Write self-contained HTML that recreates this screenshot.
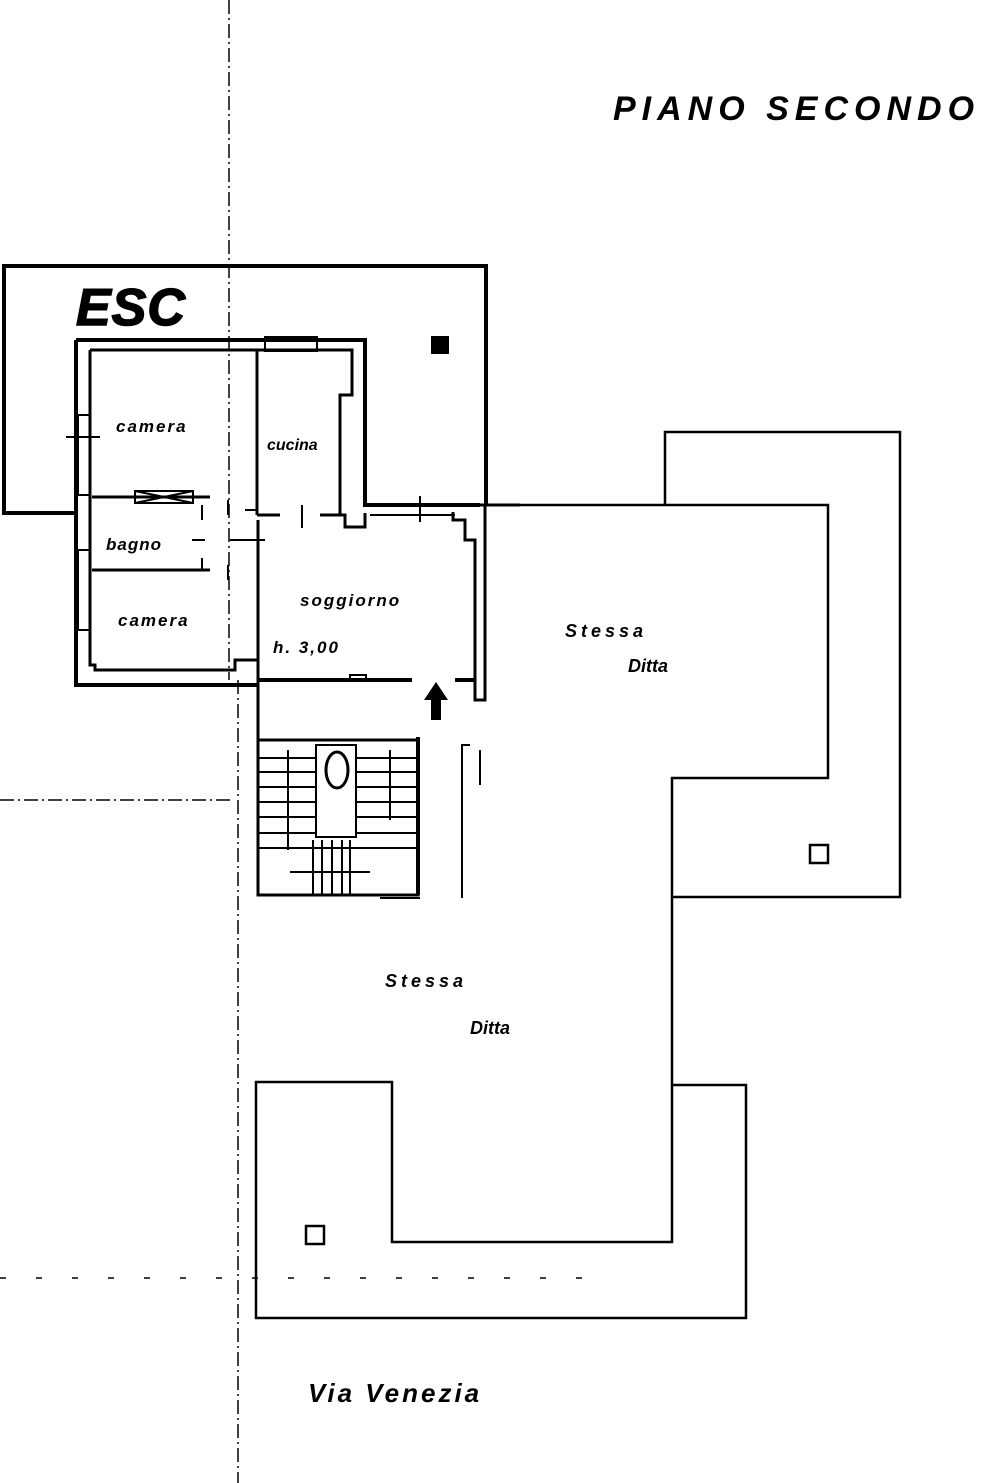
<!DOCTYPE html>
<html><head><meta charset="utf-8"><style>
html,body{margin:0;padding:0;background:#fff;}
svg{display:block}
text{font-family:"Liberation Sans",sans-serif;font-style:italic;font-weight:bold;fill:#000}
</style></head><body>
<svg width="989" height="1483" viewBox="0 0 989 1483" xmlns="http://www.w3.org/2000/svg">
<g fill="none" stroke="#000">
<line x1="229" y1="0" x2="229" y2="680" stroke-width="1.5" stroke-dasharray="14 4 2 4"/>
<line x1="238" y1="680" x2="238" y2="1483" stroke-width="1.5" stroke-dasharray="14 4 2 4"/>
<line x1="0" y1="800" x2="232" y2="800" stroke-width="1.5" stroke-dasharray="14 4 2 4"/>
<line x1="0" y1="1278" x2="600" y2="1278" stroke-width="1.5" stroke-dasharray="6 30"/>
<path d="M78 513 H4 V266 H486 V505" stroke-width="4"/>
<path d="M76 340 H365 V505 H480 M76 340 V685 H258" stroke-width="4"/>
<path d="M90 350 H352 V395 H340 V515" stroke-width="3"/>
<path d="M90 350 V665 H95 V670 H235 V660 H258" stroke-width="3"/>
<rect x="78" y="415" width="12" height="80" stroke-width="2"/>
<rect x="78" y="550" width="12" height="80" stroke-width="2"/>
<line x1="66" y1="437" x2="100" y2="437" stroke-width="2"/>
<rect x="265" y="337" width="52" height="14" stroke-width="2"/>
<line x1="257" y1="350" x2="257" y2="515" stroke-width="3"/>
<path d="M257 515 H280 M320 515 H345 V527 H365 V513" stroke-width="3"/>
<line x1="302" y1="505" x2="302" y2="528" stroke-width="2"/>
<line x1="92" y1="497" x2="210" y2="497" stroke-width="3"/>
<rect x="135" y="491" width="58" height="12" stroke-width="2"/>
<path d="M135 491 L193 503 M193 491 L135 503" stroke-width="2"/>
<line x1="92" y1="570" x2="210" y2="570" stroke-width="3"/>
<line x1="202" y1="505" x2="202" y2="520" stroke-width="2"/>
<line x1="202" y1="558" x2="202" y2="570" stroke-width="2"/>
<line x1="192" y1="540" x2="205" y2="540" stroke-width="2"/>
<line x1="230" y1="540" x2="265" y2="540" stroke-width="2"/>
<line x1="228" y1="500" x2="228" y2="515" stroke-width="2"/>
<line x1="228" y1="565" x2="228" y2="580" stroke-width="2"/>
<line x1="245" y1="510" x2="257" y2="510" stroke-width="2"/>
<line x1="258" y1="520" x2="258" y2="895" stroke-width="3"/>
<line x1="258" y1="680" x2="412" y2="680" stroke-width="4"/>
<rect x="350" y="675" width="16" height="6" stroke-width="2"/>
<line x1="455" y1="680" x2="475" y2="680" stroke-width="4"/>
<path d="M370 505 H455 M370 515 H455" stroke-width="2"/>
<line x1="420" y1="496" x2="420" y2="522" stroke-width="2"/>
<path d="M453 505 H520 M453 512 V520 H465 V540 H475 V700 H485 V505" stroke-width="3"/>
<rect x="258" y="740" width="160" height="155" stroke-width="3"/>
<line x1="418" y1="737" x2="418" y2="895" stroke-width="4"/>
<rect x="316" y="745" width="40" height="92" stroke-width="2"/>
<ellipse cx="337" cy="770" rx="11" ry="18" stroke-width="3"/>
<g stroke-width="2">
<line x1="258" y1="758" x2="316" y2="758"/><line x1="258" y1="772" x2="316" y2="772"/>
<line x1="258" y1="787" x2="316" y2="787"/><line x1="258" y1="802" x2="316" y2="802"/>
<line x1="258" y1="817" x2="316" y2="817"/><line x1="258" y1="833" x2="316" y2="833"/>
<line x1="356" y1="758" x2="418" y2="758"/><line x1="356" y1="772" x2="418" y2="772"/>
<line x1="356" y1="787" x2="418" y2="787"/><line x1="356" y1="802" x2="418" y2="802"/>
<line x1="356" y1="817" x2="418" y2="817"/><line x1="356" y1="833" x2="418" y2="833"/>
<line x1="258" y1="848" x2="418" y2="848"/>
<line x1="313" y1="840" x2="313" y2="895"/><line x1="322" y1="840" x2="322" y2="895"/>
<line x1="332" y1="840" x2="332" y2="895"/><line x1="342" y1="840" x2="342" y2="895"/>
<line x1="350" y1="840" x2="350" y2="895"/>
<line x1="288" y1="750" x2="288" y2="850"/><line x1="390" y1="750" x2="390" y2="820"/>
<line x1="290" y1="872" x2="370" y2="872"/>
</g>
<path d="M462 898 V745 H470 M480 750 V785" stroke-width="2"/>
<line x1="380" y1="898" x2="420" y2="898" stroke-width="2"/>
<g stroke-width="2.5">
<path d="M485 505 H828 V778 H672 V1242 H392 V1082 H256 V1318 H746 V1085 H672"/>
<path d="M665 505 V432 H900 V897 H672"/>
</g>
<rect x="810" y="845" width="18" height="18" stroke-width="2.5"/>
<rect x="306" y="1226" width="18" height="18" stroke-width="2.5"/>
</g>
<rect x="431" y="336" width="18" height="18" fill="#000"/>
<path d="M431 720 V700 H424 L436 682 L448 700 H441 V720 Z" fill="#000"/>
<text x="613" y="120" font-size="34" letter-spacing="6">PIANO SECONDO</text>
<text x="76" y="325" font-size="52" font-style="normal" font-weight="900" letter-spacing="1" stroke="#000" stroke-width="1.5">ESC</text>
<text x="116" y="432" font-size="17" letter-spacing="2">camera</text>
<text x="267" y="450" font-size="16">cucina</text>
<text x="106" y="550" font-size="17" letter-spacing="1">bagno</text>
<text x="118" y="626" font-size="17" letter-spacing="2">camera</text>
<text x="300" y="606" font-size="17" letter-spacing="2">soggiorno</text>
<text x="273" y="653" font-size="17" letter-spacing="2">h. 3,00</text>
<text x="565" y="637" font-size="18" letter-spacing="4">Stessa</text>
<text x="628" y="672" font-size="18">Ditta</text>
<text x="385" y="987" font-size="18" letter-spacing="4">Stessa</text>
<text x="470" y="1034" font-size="18">Ditta</text>
<text x="308" y="1402" font-size="26" letter-spacing="3">Via Venezia</text>
</svg>
</body></html>
